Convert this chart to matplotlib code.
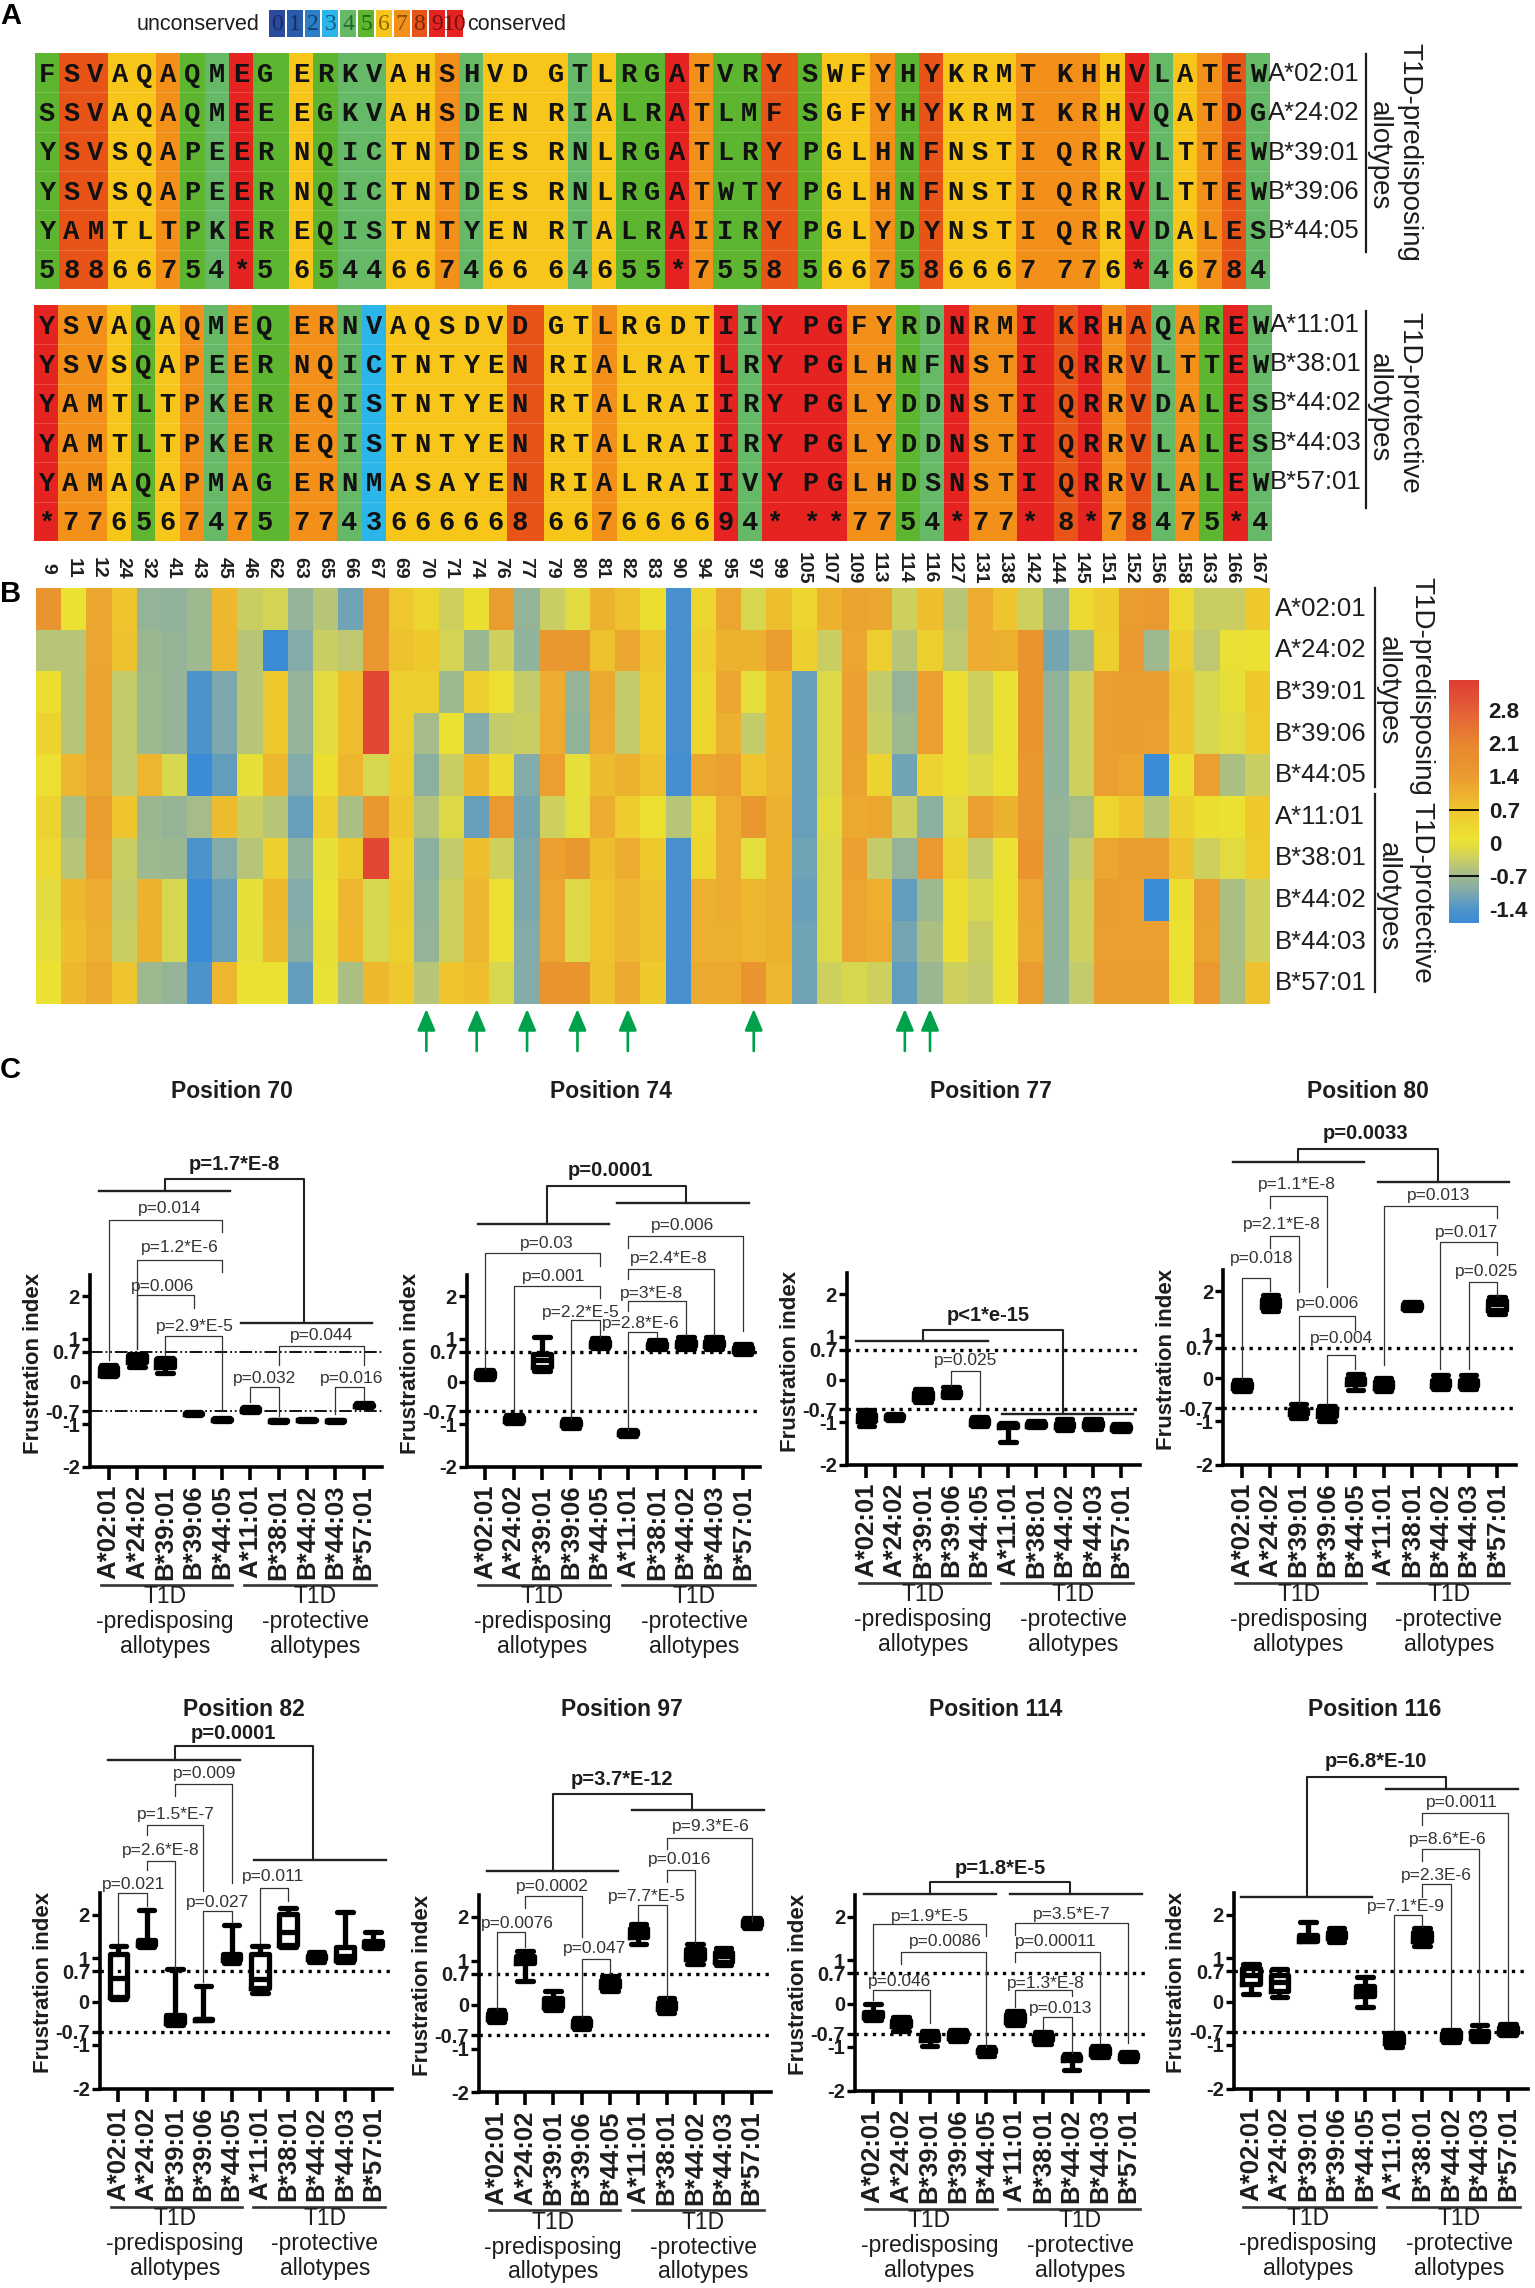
#!/usr/bin/env python3
# -*- coding: utf-8 -*-
"""HLA allotype conservation, frustration heatmap and per-position box plots"""

import matplotlib
matplotlib.use('Agg')
import matplotlib.pyplot as plt
import numpy as np
from matplotlib.colors import LinearSegmentedColormap, ListedColormap

plt.rcParams['font.family'] = ['Liberation Sans', 'DejaVu Sans']

W, H = 1535, 2288

# ---- data -------------------------------------------------------------
PRED_ALLOTYPES = ['A*02:01', 'A*24:02', 'B*39:01', 'B*39:06', 'B*44:05']
PROT_ALLOTYPES = ['A*11:01', 'B*38:01', 'B*44:02', 'B*44:03', 'B*57:01']
ALLOTYPES = PRED_ALLOTYPES + PROT_ALLOTYPES

PRED_SEQS = ['FSVAQAQMEGERKVAHSHVDGTLRGATVRYSWFYHYKRMTKHHVLATEW',
             'SSVAQAQMEEEGKVAHSDENRIALRATLMFSGFYHYKRMIKRHVQATDG',
             'YSVSQAPEERNQICTNTDESRNLRGATLRYPGLHNFNSTIQRRVLTTEW',
             'YSVSQAPEERNQICTNTDESRNLRGATWTYPGLHNFNSTIQRRVLTTEW',
             'YAMTLTPKEREQISTNTYENRTALRAIIRYPGLYDYNSTIQRRVDALES']
PRED_CONS = '58866754*5654466746664655*75585667586667776*46784'

PROT_SEQS = ['YSVAQAQMEQERNVAQSDVDGTLRGDTIIYPGFYRDNRMIKRHAQAREW',
             'YSVSQAPEERNQICTNTYENRIALRATLRYPGLHNFNSTIQRRVLTTEW',
             'YAMTLTPKEREQISTNTYENRTALRAIIRYPGLYDDNSTIQRRVDALES',
             'YAMTLTPKEREQISTNTYENRTALRAIIRYPGLYDDNSTIQRRVLALES',
             'YAMAQAPMAGERNMASAYENRIALRAIIVYPGLHDSNSTIQRRVLALEW']
PROT_CONS = '*7765674757743666668667666694***7754*77*8*78475*4'

CONS_COLORS = ['#2a4b9b', '#2a5ba8', '#2b7fc4', '#2cb5e8', '#66b966', '#5eb52f',
               '#f8c61a', '#f39019', '#e85418', '#e52421', '#e52421']
CONS_TEXT = ['#16296a', '#16296a', '#123f70', '#0f5a80', '#1f6a30', '#1f6a10',
             '#8a6a00', '#8a5000', '#7a2a00', '#7a1010', '#7a1010']

POSITIONS = [9, 11, 12, 24, 32, 41, 43, 45, 46, 62, 63, 65, 66, 67, 69, 70, 71, 74,
             76, 77, 79, 80, 81, 82, 83, 90, 94, 95, 97, 99, 105, 107, 109, 113,
             114, 116, 127, 131, 138, 142, 144, 145, 151, 152, 156, 158, 163, 166, 167]
ARROW_POSITIONS = [70, 74, 77, 80, 82, 97, 114, 116]

# frustration per position, one row per column of the heatmap, allotypes in order
HEAT_COLUMNS = [
    [1.6, -0.5, 0.2, 0.4, 0.15, 0.4, 0.3, -0.1, 0.0, 0.1],
    [0.1, -0.5, -0.5, -0.5, 0.95, -0.6, -0.5, 0.9, 0.8, 0.9],
    [1.2, 1.2, 1.25, 1.25, 1.2, 1.35, 1.3, 1.1, 1.05, 1.15],
    [0.7, 0.75, -0.4, -0.4, -0.4, 0.7, -0.35, -0.4, -0.35, 0.7],
    [-0.8, -0.75, -0.7, -0.7, 0.95, -0.75, -0.7, 1.0, 1.0, -0.7],
    [-0.85, -0.8, -0.8, -0.8, -0.2, -0.8, -0.75, -0.2, -0.2, -0.8],
    [-0.7, -0.7, -1.45, -1.45, -1.7, -0.65, -1.45, -1.7, -1.7, -1.45],
    [0.9, 0.9, -1.05, -1.05, -1.25, 0.85, -1.0, -1.2, -1.2, 0.95],
    [-0.35, -0.5, -0.5, -0.5, 0.0, -0.35, -0.5, 0.0, 0.0, 0.1],
    [-0.25, -1.7, 0.6, 0.6, 0.9, -0.5, 0.5, 0.9, 0.85, 0.1],
    [-0.8, -1.0, -0.8, -0.8, -1.0, -1.2, -0.85, -1.0, -0.95, -1.25],
    [-0.5, -0.35, -0.1, -0.1, 0.2, 0.5, 0.0, 0.1, 0.0, 0.05],
    [-1.15, -0.45, 0.8, 0.8, 0.95, -0.6, 0.6, 0.95, 0.9, -0.6],
    [1.5, 1.5, 3.2, 3.2, -0.2, 1.5, 3.2, -0.2, -0.2, 0.9],
    [0.65, 0.75, 0.5, 0.5, 0.55, 0.7, 0.45, 0.55, 0.5, 0.6],
    [0.35, 0.6, 0.5, -0.65, -0.9, -0.55, -0.9, -0.85, -0.8, -0.5],
    [-0.3, -0.25, -0.7, 0.1, -0.35, -0.15, -0.4, -0.3, -0.3, 0.7],
    [0.2, -0.75, 0.5, -1.0, 0.9, -1.2, 0.8, 0.95, 0.95, 0.8],
    [1.35, -0.3, 0.15, -0.4, 0.25, 1.4, -0.3, 0.15, 0.15, -0.2],
    [-0.8, -0.85, -0.4, -0.35, -1.0, -1.1, -1.05, -1.05, -1.0, -1.0],
    [-0.35, 1.5, 1.1, 1.1, 1.3, -0.3, 1.3, 1.2, 1.2, 1.55],
    [-0.1, 1.5, -0.8, -0.85, 0.0, -0.05, 1.5, -0.15, -0.15, 1.55],
    [1.0, 0.75, 1.15, 1.1, 0.85, 1.1, 0.8, 0.7, 0.7, 0.75],
    [0.75, 1.2, -0.4, -0.4, 1.0, 0.55, 1.1, 0.95, 0.95, 1.15],
    [0.2, 0.7, 0.55, 0.55, 0.75, 0.15, 0.6, 0.75, 0.75, 0.6],
    [-1.5, -1.5, -1.5, -1.5, -1.55, -0.5, -1.5, -1.5, -1.5, -1.5],
    [0.35, 0.45, 0.35, 0.35, 1.2, 0.3, 0.35, 1.05, 1.05, 1.15],
    [1.2, 1.0, 1.2, 1.05, 1.3, 1.1, 1.1, 1.1, 1.05, 1.15],
    [-0.2, 1.0, 0.0, -0.4, 0.7, 1.5, -0.05, 0.95, 0.95, 1.6],
    [0.8, 1.35, 0.9, 0.9, 0.95, 1.05, 1.0, 1.05, 1.0, 0.95],
    [0.35, 0.45, -1.2, -1.2, -1.2, -1.2, -1.15, -1.2, -1.15, -1.15],
    [1.0, -0.35, -0.15, -0.15, -0.15, -0.1, -0.15, -0.15, -0.15, -0.3],
    [1.25, 1.2, 1.3, 1.3, 1.25, 1.15, 1.3, 1.2, 1.2, -0.2],
    [1.2, 0.5, -0.4, -0.35, 0.4, 1.2, -0.4, 1.05, 1.1, -0.3],
    [-0.3, -0.5, -0.8, -0.7, -1.15, -0.3, -0.8, -1.25, -1.1, -1.25],
    [0.8, 0.5, 1.3, 1.3, 0.4, -0.9, 1.4, -0.7, -0.6, -0.75],
    [-0.5, -0.45, 0.2, 0.2, 0.2, -0.1, 0.4, 0.2, 0.2, -0.3],
    [1.1, 1.1, -0.3, -0.3, -0.15, 1.3, -0.4, -0.2, -0.35, -0.4],
    [0.7, 1.05, 0.1, 0.1, 0.1, 1.0, 0.1, 0.1, 0.1, 0.1],
    [-0.3, 1.55, 1.55, 1.55, 1.45, 1.45, 1.6, 1.2, 1.15, 1.35],
    [-0.8, -1.1, -0.85, -0.85, -0.85, -0.8, -0.85, -0.85, -0.85, -0.85],
    [0.3, -0.7, -0.3, -0.3, -0.3, -0.65, -0.4, -0.3, -0.3, -0.4],
    [0.55, 0.5, 1.3, 1.3, 1.3, 0.35, 1.2, 1.35, 1.3, 1.35],
    [1.35, 1.4, 1.35, 1.35, 1.2, 0.7, 1.35, 1.3, 1.3, 1.35],
    [1.4, -0.7, 1.35, 1.3, -1.7, -0.5, 1.35, -1.7, 1.3, 1.35],
    [0.3, 0.5, 0.7, 0.7, 0.2, 0.45, 0.75, 0.2, 0.1, 0.1],
    [-0.35, -0.45, -0.2, -0.2, 1.3, 0.2, -0.3, 1.3, 1.25, 1.4],
    [-0.35, 0.05, 0.0, -0.1, -0.6, 0.1, -0.1, -0.6, -0.6, -0.6],
    [0.6, 0.1, 0.6, 0.55, -0.35, 0.6, 0.55, -0.3, -0.3, 0.75],
]
COLORBAR_TICKS = [2.8, 2.1, 1.4, 0.7, 0, -0.7, -1.4]
COLORBAR_LABELS = ['2.8', '2.1', '1.4', '0.7', '0', '-0.7', '-1.4']

# box plots: whisker low, q1, median, q3, whisker high
BOX_70 = [[0.12, 0.15, 0.25, 0.33, 0.38], [0.33, 0.45, 0.55, 0.63, 0.65], [0.2, 0.35, 0.45, 0.52, 0.55],
          [-0.79, -0.77, -0.76, -0.74, -0.72], [-0.93, -0.9, -0.89, -0.88, -0.86], [-0.72, -0.68, -0.65, -0.63, -0.6],
          [-0.95, -0.93, -0.92, -0.91, -0.89], [-0.93, -0.91, -0.9, -0.89, -0.87], [-0.95, -0.93, -0.92, -0.91, -0.89],
          [-0.6, -0.58, -0.56, -0.54, -0.5]]
BOX_74 = [[0.05, 0.1, 0.17, 0.22, 0.27], [-0.97, -0.92, -0.87, -0.82, -0.78], [0.25, 0.35, 0.5, 0.65, 1.05],
          [-1.1, -1.03, -0.98, -0.93, -0.87], [0.78, 0.83, 0.9, 0.95, 1.03], [-1.28, -1.23, -1.2, -1.17, -1.14],
          [0.75, 0.8, 0.85, 0.9, 0.97], [0.75, 0.83, 0.9, 0.95, 1.05], [0.75, 0.83, 0.9, 0.95, 1.05],
          [0.65, 0.71, 0.76, 0.8, 0.88]]
BOX_77 = [[-1.1, -0.98, -0.87, -0.8, -0.72], [-0.95, -0.9, -0.86, -0.82, -0.8], [-0.52, -0.45, -0.36, -0.3, -0.22],
          [-0.42, -0.37, -0.32, -0.26, -0.18], [-1.1, -1.04, -0.98, -0.93, -0.87], [-1.47, -1.12, -1.1, -1.05, -1.02],
          [-1.12, -1.08, -1.05, -1.02, -0.98], [-1.18, -1.12, -1.07, -1.02, -0.93], [-1.15, -1.08, -1.05, -1.0, -0.93],
          [-1.2, -1.15, -1.12, -1.09, -1.05]]
BOX_80 = [[-0.29, -0.22, -0.16, -0.12, -0.05], [1.55, 1.63, 1.72, 1.82, 1.92], [-0.93, -0.82, -0.75, -0.72, -0.6],
          [-1.0, -0.87, -0.8, -0.72, -0.64], [-0.27, -0.15, -0.08, 0.0, 0.09], [-0.31, -0.22, -0.17, -0.08, 0.0],
          [1.58, 1.62, 1.66, 1.7, 1.75], [-0.25, -0.18, -0.13, -0.05, 0.08], [-0.25, -0.18, -0.13, -0.05, 0.08],
          [1.48, 1.58, 1.7, 1.8, 1.87]]
BOX_82 = [[0.05, 0.1, 0.55, 1.1, 1.27], [1.25, 1.3, 1.35, 1.42, 2.1], [-0.55, -0.5, -0.42, -0.32, 0.75],
          [-0.42, -0.42, -0.41, -0.4, 0.36], [0.88, 0.95, 1.02, 1.1, 1.75], [0.2, 0.3, 0.52, 1.1, 1.27],
          [1.25, 1.3, 1.6, 2.02, 2.15], [0.9, 0.97, 1.03, 1.08, 1.13], [0.9, 0.95, 1.05, 1.25, 2.05],
          [1.22, 1.27, 1.33, 1.4, 1.6]]
BOX_97 = [[-0.4, -0.33, -0.27, -0.2, -0.13], [0.54, 0.95, 1.05, 1.1, 1.23], [-0.13, -0.05, 0.05, 0.15, 0.3],
          [-0.55, -0.48, -0.42, -0.36, -0.3], [0.32, 0.4, 0.5, 0.57, 0.65], [1.37, 1.55, 1.65, 1.75, 1.83],
          [-0.2, -0.1, -0.03, 0.06, 0.16], [0.92, 1.05, 1.15, 1.27, 1.38], [0.9, 0.97, 1.1, 1.2, 1.3],
          [1.75, 1.82, 1.87, 1.92, 1.97]]
BOX_114 = [[-0.38, -0.32, -0.27, -0.2, -0.02], [-0.63, -0.52, -0.45, -0.38, -0.3], [-0.97, -0.85, -0.78, -0.7, -0.63],
           [-0.87, -0.8, -0.72, -0.66, -0.6], [-1.2, -1.12, -1.08, -1.04, -0.99], [-0.5, -0.42, -0.33, -0.25, -0.17],
           [-0.92, -0.85, -0.78, -0.72, -0.65], [-1.53, -1.3, -1.25, -1.2, -1.17], [-1.22, -1.15, -1.08, -1.03, -0.97],
           [-1.33, -1.26, -1.2, -1.17, -1.12]]
BOX_116 = [[0.18, 0.4, 0.6, 0.77, 0.86], [0.11, 0.25, 0.45, 0.6, 0.75], [1.38, 1.4, 1.47, 1.52, 1.83],
           [1.37, 1.45, 1.52, 1.6, 1.7], [-0.13, 0.12, 0.25, 0.36, 0.57], [-1.05, -0.95, -0.85, -0.78, -0.72],
           [1.27, 1.38, 1.5, 1.6, 1.7], [-0.92, -0.87, -0.78, -0.72, -0.65], [-0.9, -0.85, -0.75, -0.68, -0.55],
           [-0.78, -0.73, -0.65, -0.58, -0.52]]

# ---- panel C layout ----------------------------------------------------
# title, boxes, axis_x, x0, dx, right, y0, unit (pixels), title centre (px), title y
# bold: text, tx, ty, top, x_left, low_left, group_left(a, b), x_right, low_right, group_right(a, b)
# thin brackets: i, j, top, low_i, low_j, text, tx, ty
PANELS = [
    dict(title='Position 70', box=BOX_70, ax_x=89.6, x0=108.5, dx=28.36, right=382, y0=1381.5, unit=42.7, tcx=232, tcy=1092,
         bold=('p=1.7*E-8', 4.42, 5.08, 4.74, 2.0, 4.46, (-0.35, 4.28), 6.9, 1.36, (4.68, 9.3)),
         thin=[(0, 4, 3.79, 0.5, 3.49, 'p=0.014', 2.14, 4.05), (1, 4, 2.84, 0.76, 2.56, 'p=1.2*E-6', 2.53, 3.14),
               (1, 3, 2.03, 0.76, 1.71, 'p=0.006', 1.9, 2.23), (2, 4, 1.06, 0.62, -0.7, 'p=2.9*E-5', 3.05, 1.29),
               (6, 9, 0.82, 0.39, 0.39, 'p=0.044', 7.5, 1.08), (5, 6, -0.14, -0.47, -0.81, 'p=0.032', 5.5, 0.06),
               (8, 9, -0.12, -0.77, -0.44, 'p=0.016', 8.58, 0.06)]),
    dict(title='Position 74', box=BOX_74, ax_x=466.7, x0=485, dx=28.66, right=759.7, y0=1381.5, unit=42.7, tcx=611, tcy=1092,
         bold=('p=0.0001', 4.39, 4.95, 4.58, 2.17, 3.69, (-0.23, 4.34), 7.03, 4.18, (4.6, 9.2)),
         thin=[(0, 4, 3.0, 0.3, 2.7, 'p=0.03', 2.14, 3.23), (1, 4, 2.24, -0.72, 1.96, 'p=0.001', 2.41, 2.45),
               (3, 4, 1.43, -0.86, 1.04, 'p=2.2*E-5', 3.33, 1.62), (5, 9, 3.4, 3.12, 1.18, 'p=0.006', 6.9, 3.65),
               (5, 8, 2.63, 2.4, 1.08, 'p=2.4*E-8', 6.4, 2.87), (5, 7, 1.89, 1.64, 1.08, 'p=3*E-8', 5.8, 2.06),
               (5, 6, 1.17, -1.14, 1.04, 'p=2.8*E-6', 5.43, 1.36)]),
    dict(title='Position 77', box=BOX_77, ax_x=846.5, x0=866.3, dx=28.33, right=1139.6, y0=1379.5, unit=42.7, tcx=991, tcy=1092,
         bold=('p<1*e-15', 4.31, 1.5, 1.17, 2.0, 0.89, (-0.35, 4.31), 6.93, -0.81, (4.8, 9.42)),
         thin=[(3, 4, 0.2, -0.15, -0.72, 'p=0.025', 3.49, 0.44)]),
    dict(title='Position 80', box=BOX_80, ax_x=1223, x0=1242, dx=28.33, right=1516, y0=1378, unit=43.3, tcx=1368, tcy=1092,
         bold=('p=0.0033', 4.36, 5.64, 5.28, 1.97, 5.0, (-0.31, 4.31), 6.93, 4.53, (4.8, 9.42)),
         thin=[(1, 3, 4.2, 3.93, 2.11, 'p=1.1*E-8', 1.92, 4.46), (1, 2, 3.29, 3.0, 1.99, 'p=2.1*E-8', 1.4, 3.54),
               (0, 1, 2.31, -0.03, 2.0, 'p=0.018', 0.7, 2.77), (2, 4, 1.44, -0.57, 1.12, 'p=0.006', 3.02, 1.72),
               (3, 4, 0.53, -0.61, 0.21, 'p=0.004', 3.53, 0.91), (5, 9, 3.98, 0.3, 3.7, 'p=0.013', 6.93, 4.21),
               (7, 9, 3.13, 0.21, 2.83, 'p=0.017', 7.94, 3.35), (8, 9, 2.22, 0.21, 1.9, 'p=0.025', 8.64, 2.45)]),
    dict(title='Position 82', box=BOX_82, ax_x=99.5, x0=118.4, dx=28.3, right=392, y0=2001.5, unit=43.5, tcx=244, tcy=1709,
         bold=('p=0.0001', 4.08, 6.17, 5.88, 2.0, 5.56, (-0.35, 4.29), 6.89, 3.26, (4.78, 9.44)),
         thin=[(2, 4, 5.0, 4.73, 2.72, 'p=0.009', 3.04, 5.24), (1, 3, 4.05, 3.83, 2.54, 'p=1.5*E-7', 2.02, 4.31),
               (1, 2, 3.24, 3.02, 0.77, 'p=2.6*E-8', 1.49, 3.47), (0, 1, 2.5, 1.35, 2.2, 'p=0.021', 0.53, 2.7),
               (3, 4, 2.07, 0.45, 1.8, 'p=0.027', 3.51, 2.27), (5, 6, 2.61, 1.35, 2.3, 'p=0.011', 5.47, 2.88)]),
    dict(title='Position 97', box=BOX_97, ax_x=478.6, x0=496.5, dx=28.36, right=771, y0=2004.6, unit=43.9, tcx=622, tcy=1709,
         bold=('p=3.7*E-12', 4.42, 5.12, 4.79, 2.0, 3.05, (-0.35, 4.28), 6.91, 4.44, (4.77, 9.42)),
         thin=[(6, 9, 3.8, 3.55, 1.9, 'p=9.3*E-6', 7.54, 4.06), (6, 7, 3.06, 2.79, 1.41, 'p=0.016', 6.44, 3.3),
               (5, 6, 2.28, 1.9, 0.16, 'p=7.7*E-5', 5.3, 2.47), (1, 3, 2.48, 2.2, 1.54, 'p=0.0002', 1.97, 2.7),
               (0, 1, 1.66, -0.1, 1.32, 'p=0.0076', 0.74, 1.84), (3, 4, 1.05, -0.29, 0.7, 'p=0.047', 3.47, 1.28)]),
    dict(title='Position 114', box=BOX_114, ax_x=855, x0=872.7, dx=28.42, right=1148, y0=2003.5, unit=43.5, tcx=996, tcy=1709,
         bold=('p=1.8*E-5', 4.5, 3.11, 2.79, 2.03, 2.51, (-0.31, 4.35), 6.94, 2.51, (4.82, 9.46)),
         thin=[(0, 4, 1.83, 0.59, 1.56, 'p=1.9*E-5', 2.0, 2.0), (1, 4, 1.19, 0.9, -0.99, 'p=0.0086', 2.54, 1.43),
               (0, 2, 0.32, 0.09, -0.45, 'p=0.046', 0.96, 0.5), (5, 9, 1.85, 1.58, -0.9, 'p=3.5*E-7', 6.99, 2.05),
               (5, 8, 1.19, 0.95, -0.9, 'p=0.00011', 6.43, 1.42), (5, 7, 0.3, -0.09, 0.18, 'p=1.3*E-8', 6.1, 0.47),
               (6, 7, -0.3, -0.59, -1.13, 'p=0.013', 6.6, -0.11)]),
    dict(title='Position 116', box=BOX_116, ax_x=1233.5, x0=1250.9, dx=28.57, right=1527.7, y0=2001.5, unit=43.5, tcx=1375, tcy=1709,
         bold=('p=6.8*E-10', 4.36, 5.51, 5.17, 1.96, 2.4, (-0.36, 4.24), 6.82, 4.88, (4.74, 9.34)),
         thin=[(6, 9, 4.34, 4.05, -0.45, 'p=0.0011', 7.4, 4.58), (6, 8, 3.5, 3.23, -0.5, 'p=8.6*E-6', 6.9, 3.72),
               (6, 7, 2.7, 2.41, -0.59, 'p=2.3E-6', 6.5, 2.9), (5, 6, 1.98, -0.68, 1.71, 'p=7.1*E-9', 5.43, 2.18)]),
]

fig = plt.figure(figsize=(W / 100, H / 100), dpi=100, facecolor='white')


def px_axes(left, top, right, bottom, **kw):
    """axes from pixel box, origin at top left of the picture"""
    return fig.add_axes([left / W, 1 - bottom / H, (right - left) / W, (bottom - top) / H], **kw)


# overlay for free text and lines, in picture pixels
page = px_axes(0, 0, W, H)
page.set_xlim(0, W)
page.set_ylim(H, 0)
page.axis('off')
page.set_zorder(5)

TEXT_COLOR = '#1d1d1b'
page.text(0, 16, 'A', fontsize=21, fontweight='bold', va='center', ha='left', color='black')
page.text(0, 594, 'B', fontsize=21, fontweight='bold', va='center', ha='left', color='black')
page.text(0, 1070, 'C', fontsize=21, fontweight='bold', va='center', ha='left', color='black')


# ---- panel A ---------------------------------------------------------
def cons_value(ch):
    return 10 if ch == '*' else int(ch)


def draw_alignment(seqs, cons, left, top, right, bottom):
    ax = px_axes(left, top, right, bottom)
    widths = [1.5 if (i + 1) % 10 == 0 and i < 40 else 1.0 for i in range(len(cons))]
    edges = np.concatenate([[0], np.cumsum(widths)])
    rows = list(seqs) + [cons]
    values = np.array([[cons_value(c) for c in cons]] * len(rows))
    ax.pcolormesh(edges, np.arange(len(rows) + 1), values,
                  cmap=ListedColormap(CONS_COLORS), vmin=-0.5, vmax=10.5)
    ax.set_xlim(edges[0], edges[-1])
    ax.set_ylim(len(rows), 0)
    ax.axis('off')
    for r in range(1, len(rows)):
        ax.axhline(r, color='white', lw=0.5, alpha=0.25)
    for r, row in enumerate(rows):
        for c, ch in enumerate(row):
            ax.text(edges[c] + 0.5, r + 0.55, ch, family='Liberation Mono', fontweight='bold',
                    fontsize=19.5, ha='center', va='center', color='#111111')


draw_alignment(PRED_SEQS, PRED_CONS, 35, 53, 1270, 289)
draw_alignment(PROT_SEQS, PROT_CONS, 34, 305, 1272, 541)

for i, name in enumerate(PRED_ALLOTYPES):
    page.text(1268, 53 + 39.4 * (i + 0.5) + 1, name, fontsize=18.5, va='center', ha='left', color=TEXT_COLOR)
for i, name in enumerate(PROT_ALLOTYPES):
    page.text(1270, 305 + 39.4 * (i + 0.5), name, fontsize=18.5, va='center', ha='left', color=TEXT_COLOR)

page.plot([1366, 1366], [54, 252], color=TEXT_COLOR, lw=1.6)
page.plot([1366, 1366], [311, 508], color=TEXT_COLOR, lw=1.6)
rot = dict(rotation=-90, ha='center', va='center', color=TEXT_COLOR, fontsize=20)
page.text(1409, 152, 'T1D-predisposing', **rot)
page.text(1379, 156, 'allotypes', **rot)
page.text(1409, 403, 'T1D-protective', **rot)
page.text(1379, 408, 'allotypes', **rot)

# conservation scale
leg = px_axes(268, 9, 464, 38)
leg.pcolormesh(np.arange(12), [0, 1], [np.arange(11)], cmap=ListedColormap(CONS_COLORS), vmin=-0.5, vmax=10.5,
               edgecolors='white', linewidth=0.3)
leg.set_xlim(0, 11)
leg.set_ylim(1, 0)
leg.axis('off')
for d in range(11):
    leg.text(d + 0.5, 0.55, str(d), family='Liberation Serif', fontsize=17, ha='center', va='center',
             color=CONS_TEXT[d])
page.text(137, 24, 'unconserved', fontsize=15.5, va='center', ha='left', color=TEXT_COLOR)
page.text(467, 25, 'conserved', fontsize=15.5, va='center', ha='left', color=TEXT_COLOR)

# ---- panel B ---------------------------------------------------------
heat_cmap = LinearSegmentedColormap.from_list('frustration', [
    ((-1.7 + 1.7) / 5.14, '#3c8bd6'), ((-1.4 + 1.7) / 5.14, '#5095ca'), ((-1.0 + 1.7) / 5.14, '#84aca8'),
    ((-0.7 + 1.7) / 5.14, '#a0ba8e'), ((-0.4 + 1.7) / 5.14, '#c6cc6a'), ((-0.1 + 1.7) / 5.14, '#e2dc40'),
    ((0.1 + 1.7) / 5.14, '#ece232'), ((0.7 + 1.7) / 5.14, '#efc52e'), ((1.4 + 1.7) / 5.14, '#ea9a30'),
    ((2.1 + 1.7) / 5.14, '#e8862f'), ((2.8 + 1.7) / 5.14, '#e35f36'), (1.0, '#e03c32')])
heat = np.array(HEAT_COLUMNS).T
hax = px_axes(36, 588, 1270, 1004)
im = hax.imshow(heat, cmap=heat_cmap, vmin=-1.7, vmax=3.44, aspect='auto', interpolation='nearest')
hax.axis('off')

col_w = (1270 - 36) / len(POSITIONS)
for i, pos in enumerate(POSITIONS):
    page.text(36 + col_w * (i + 0.5) - 1, 568, str(pos), rotation=-90, fontsize=14, fontweight='bold',
              ha='center', va='center', color=TEXT_COLOR)
for i, name in enumerate(ALLOTYPES):
    page.text(1275, 588 + 41.6 * (i + 0.5), name, fontsize=18.5, va='center', ha='left', color=TEXT_COLOR)
page.plot([1375, 1375], [588, 787], color=TEXT_COLOR, lw=1.6)
page.plot([1375, 1375], [794, 992], color=TEXT_COLOR, lw=1.6)
page.text(1421, 686, 'T1D-predisposing', **rot)
page.text(1388, 691, 'allotypes', **rot)
page.text(1421, 893, 'T1D-protective', **rot)
page.text(1388, 897, 'allotypes', **rot)

for pos in ARROW_POSITIONS:
    xc = 36 + col_w * (POSITIONS.index(pos) + 0.5)
    page.annotate('', xy=(xc, 1009), xytext=(xc, 1051),
                  arrowprops=dict(arrowstyle='-|>,head_width=0.55,head_length=1.3', color='#00a14b', lw=1.9,
                                  shrinkA=0, shrinkB=0))

cax = px_axes(1449, 680, 1479, 923)
cb = fig.colorbar(im, cax=cax, ticks=COLORBAR_TICKS)
cb.ax.set_yticklabels(COLORBAR_LABELS, fontsize=16, fontweight='bold', color=TEXT_COLOR)
cb.ax.tick_params(length=0, pad=7)
cb.outline.set_visible(False)
cb.ax.axhline(0.7, color='black', lw=1.3)
cb.ax.axhline(-0.7, color='black', lw=1.3)


# ---- panel C ---------------------------------------------------------
def draw_panel(p):
    bottom = p['y0'] + 2 * p['unit']
    top = p['y0'] - 2.5 * p['unit']
    ax = px_axes(p['ax_x'], top, p['right'], bottom)
    ax.set_xlim((p['ax_x'] - p['x0']) / p['dx'], (p['right'] - p['x0']) / p['dx'])
    ax.set_ylim(-2, 2.5)
    ax.patch.set_alpha(0)

    stats = [dict(whislo=b[0], q1=b[1], med=b[2], q3=b[3], whishi=b[4], fliers=[]) for b in p['box']]
    line = dict(color='black', linewidth=3.8, solid_capstyle='round')
    ax.bxp(stats, positions=np.arange(10), widths=0.62, capwidths=0.55, showfliers=False, manage_ticks=False,
           boxprops=dict(color='black', linewidth=3.8), medianprops=line, whiskerprops=line, capprops=line, zorder=3)

    dotted = (0, (1, 1.6))
    if p['title'] == 'Position 70':
        dotted = (0, (7, 1.6, 1, 1.6, 1, 1.6))
    for yy in (0.7, -0.7):
        ax.axhline(yy, color='black', lw=1.3 if p['title'] == 'Position 70' else 2.4, ls=dotted, zorder=2)

    for side in ('top', 'right'):
        ax.spines[side].set_visible(False)
    for side in ('left', 'bottom'):
        ax.spines[side].set_linewidth(2.6)
    ax.set_yticks([-2, -1, -0.7, 0, 0.7, 1, 2])
    ax.set_yticklabels(['-2', '-1', '-0.7', '0', '0.7', '1', '2'], fontsize=14.5, fontweight='bold',
                       color=TEXT_COLOR)
    ax.tick_params(axis='y', length=6, width=2.4, pad=1)
    ax.set_xticks(np.arange(10))
    ax.set_xticklabels(ALLOTYPES, rotation=90, fontsize=18.5, ha='center', va='top', color=TEXT_COLOR,
                       fontweight='bold')
    ax.tick_params(axis='x', length=9, width=2.6, pad=4)
    ax.set_ylabel('Frustration index', fontsize=16, fontweight='bold', color=TEXT_COLOR, labelpad=0)
    ax.yaxis.set_label_coords(-46 / (p['right'] - p['ax_x']), 0.54)

    page.text(p['tcx'], p['tcy'], p['title'], fontsize=16.5, fontweight='bold', ha='center', va='center',
              color=TEXT_COLOR)

    # allotype group captions under the tick labels
    dy = lambda px: -2 - px / p['unit']
    for (a, b) in ((-0.26, 4.37), (4.77, 9.42)):
        ax.plot([a, b], [dy(118)] * 2, color='#333333', lw=1.9, clip_on=False)
    for tx, lines in ((2.0, ['T1D', '-predisposing', 'allotypes']), (7.3, ['T1D', '-protective', 'allotypes'])):
        for txt, off in zip(lines, (130, 155, 179.5)):
            ax.text(tx, dy(off), txt, fontsize=16.5, ha='center', va='center', color=TEXT_COLOR, clip_on=False)

    # overall comparison
    label, tx, ty, ytop, xl, lowl, groupl, xr, lowr, groupr = p['bold']
    ax.plot([xl, xl, xr, xr], [lowl, ytop, ytop, lowr], color='#222222', lw=1.5, clip_on=False, zorder=4)
    ax.plot(groupl, [lowl, lowl], color='#222222', lw=1.7, clip_on=False, zorder=4)
    ax.plot(groupr, [lowr, lowr], color='#222222', lw=1.7, clip_on=False, zorder=4)
    ax.text(tx, ty, label, fontsize=14.5, fontweight='bold', ha='center', va='center', color=TEXT_COLOR,
            clip_on=False, zorder=6)

    # pairwise comparisons
    for i, j, ytop, low_i, low_j, label, tx, ty in p['thin']:
        ax.plot([i, i, j, j], [low_i, ytop, ytop, low_j], color='#333333', lw=0.9, clip_on=False, zorder=4)
        ax.text(tx, ty, label, fontsize=12.5, ha='center', va='center', color='#333333', clip_on=False, zorder=6)


for panel in PANELS:
    draw_panel(panel)

fig.savefig('out.png', dpi=100, facecolor='white')
